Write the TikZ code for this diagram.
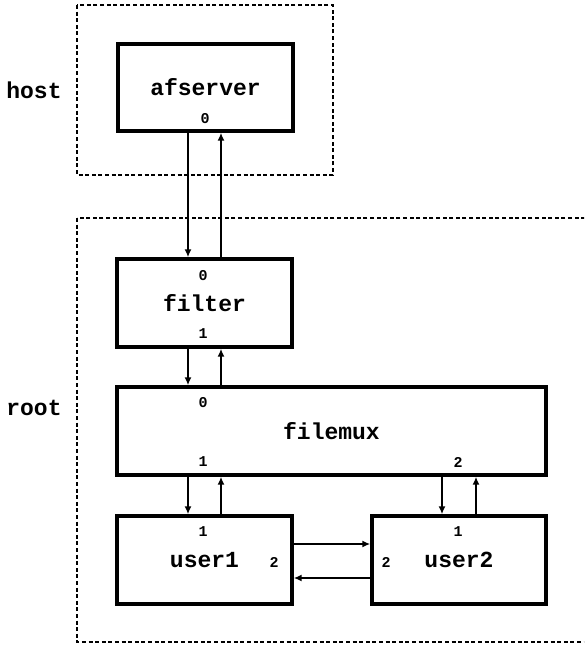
\documentclass[tikz,border=0pt]{standalone}
\usepackage{fontspec}
\setmonofont{Liberation Mono}
\usetikzlibrary{arrows.meta,calc}
\begin{document}
\begin{tikzpicture}[x=0.5pt,y=-0.5pt,
  blk/.style={draw,line width=1.7pt,inner sep=0pt,font=\ttfamily\bfseries\fontsize{11.5}{13}\selectfont},
  port/.style={inner sep=0pt,font=\ttfamily\bfseries\fontsize{7.5}{9}\selectfont},
  side/.style={inner sep=0pt,font=\ttfamily\bfseries\fontsize{11.5}{13}\selectfont},
  grp/.style={line width=1.1pt,dash pattern=on 2pt off 1.3pt},
  arr/.style={line width=1.3pt,-{Latex[length=4pt,width=3.5pt]}}]
\useasboundingbox (0,0) rectangle (584,648);
\clip (0,0) rectangle (584,648);
\fill[white] (0,0) rectangle (584,648);
% groups
\draw[grp] (77,5) rectangle (333,175);
\draw[grp] (77,218) rectangle (610,642);
\node[side] (host) at (34,90) {host};
\node[side] (root) at (34,408) {root};
% blocks
\node[blk,minimum width=87.5pt,minimum height=43.5pt] (afserver) at (205.5,87.5) {afserver};
\node[blk,minimum width=87.5pt,minimum height=44pt] (filter) at (204.5,303) {filter};
\node[blk,minimum width=214.5pt,minimum height=44pt] (filemux) at (331.5,431) {filemux};
\node[blk,minimum width=87.5pt,minimum height=44pt] (user1) at (204.5,560) {user1};
\node[blk,minimum width=87pt,minimum height=44pt] (user2) at (459,560) {user2};
% ports
\node[port] (afs0) at (205,119) {0};
\node[port] (fil0) at (203,276) {0};
\node[port] (fil1) at (203,334) {1};
\node[port] (fmx0) at (203,403) {0};
\node[port] (fmx1) at (203,462) {1};
\node[port] (fmx2) at (458,462) {2};
\node[port] (us11) at (203,532) {1};
\node[port] (us12) at (274,562) {2};
\node[port] (us21) at (458,532) {1};
\node[port] (us22) at (386,562) {2};
% connector coordinates
\coordinate (xa) at (188,0);
\coordinate (xb) at (221,0);
\coordinate (xc) at (442,0);
\coordinate (xd) at (476,0);
\coordinate (ya) at (0,544);
\coordinate (yb) at (0,578);
% connectors
\draw[arr] (afserver.south -| xa) -- (filter.north -| xa);
\draw[arr] (filter.north -| xb) -- (afserver.south -| xb);
\draw[arr] (filter.south -| xa) -- (filemux.north -| xa);
\draw[arr] (filemux.north -| xb) -- (filter.south -| xb);
\draw[arr] (filemux.south -| xa) -- (user1.north -| xa);
\draw[arr] (user1.north -| xb) -- (filemux.south -| xb);
\draw[arr] (filemux.south -| xc) -- (user2.north -| xc);
\draw[arr] (user2.north -| xd) -- (filemux.south -| xd);
\draw[arr] (user1.east |- ya) -- (user2.west |- ya);
\draw[arr] (user2.west |- yb) -- (user1.east |- yb);
\end{tikzpicture}
\end{document}
